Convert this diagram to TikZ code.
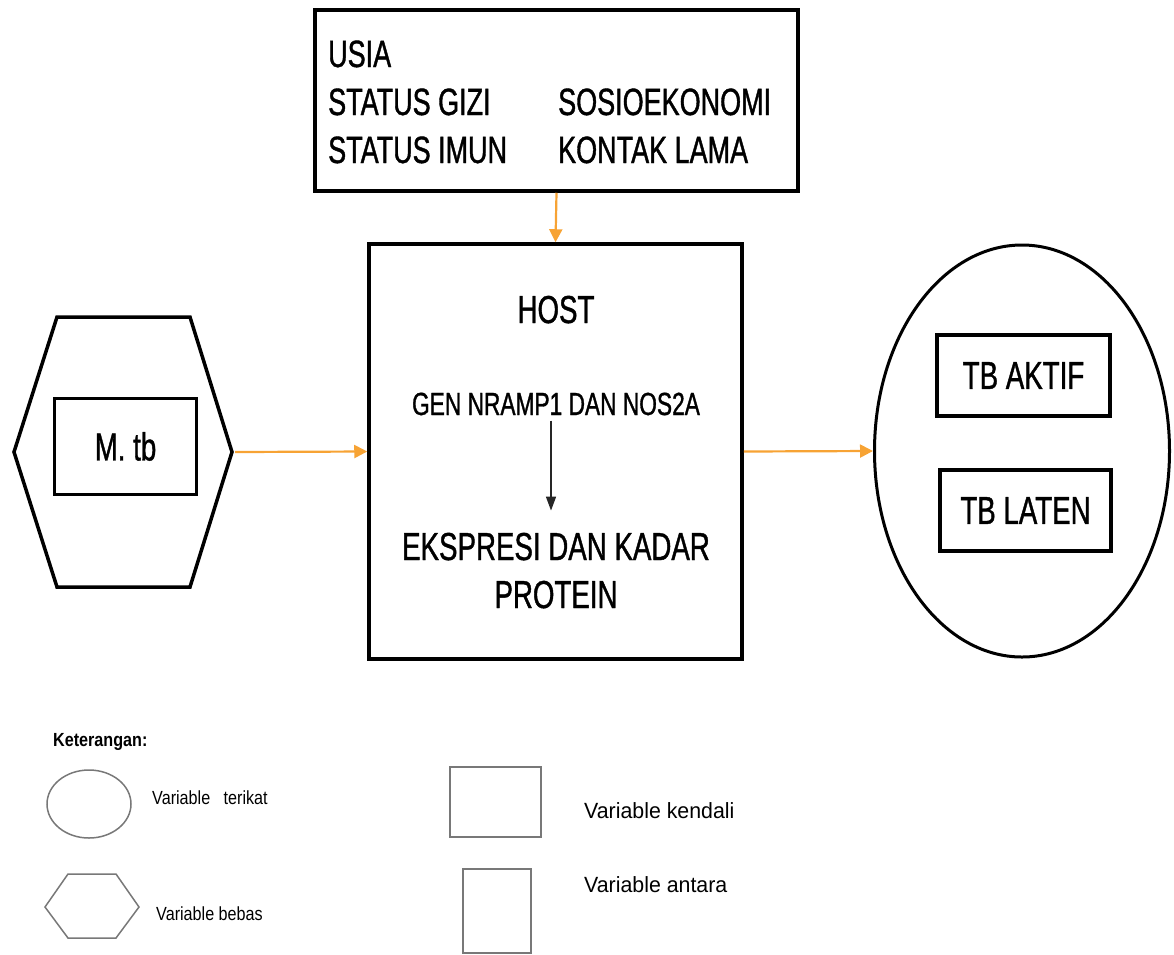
\documentclass[tikz,border=0pt]{standalone}
\usepackage{fontspec}
\setmainfont{Liberation Sans}
\newfontfamily\nar[FakeStretch=0.71,FakeBold=1]{Liberation Sans}
\newfontfamily\legs[FakeStretch=0.85]{Liberation Sans}
\newfontfamily\legl[FakeStretch=0.97]{Liberation Sans}
\usetikzlibrary{shapes.geometric,arrows.meta}
\definecolor{arrorange}{RGB}{247,163,52}
\definecolor{leggrey}{RGB}{120,120,120}
\begin{document}
\begin{tikzpicture}[x=1pt,y=-1pt,
  box/.style={draw=black,line width=3.5pt,inner sep=0pt},
  big/.style={font=\nar\fontsize{39}{48}\selectfont},
  genf/.style={font=\nar\fontsize{32}{38}\selectfont},
  oarrow/.style={draw=arrorange,line width=2.2pt,-{Triangle[length=13pt,width=13pt]}},
  barrow/.style={draw=black!85,line width=1.5pt,-{Triangle[length=14pt,width=10pt]}},
  lg/.style={draw=leggrey,line width=1.5pt,inner sep=0pt},
  legsmall/.style={font=\legs\fontsize{19}{22}\selectfont,inner sep=0pt},
  leglarge/.style={font=\legl\fontsize{22}{26}\selectfont,inner sep=0pt}]
\useasboundingbox (0,0) rectangle (1174,954);

% top box (control variables)
\node[box,minimum width=483pt,minimum height=181pt] (top) at (556.5,100.5) {};
\node[font=\nar\fontsize{38}{48}\selectfont,anchor=base west,inner sep=0pt] (toptext) at (328,67)
  {\begin{tabular}[t]{@{}l@{}l@{}}\makebox[230pt][l]{USIA} & \\ STATUS GIZI & SOSIOEKONOMI\\ STATUS IMUN & KONTAK LAMA\end{tabular}};

% host box
\node[box,minimum width=373pt,minimum height=415pt] (host) at (555.5,451.5) {};
\node[big,anchor=base,inner sep=0pt] (hosttxt) at (556,323) {HOST};
\node[genf,anchor=base,inner sep=2pt] (gen) at (556,415) {GEN NRAMP1 DAN NOS2A};
\node[big,anchor=base,align=center,inner sep=0pt] (eks) at (556,608) {EKSPRESI DAN KADAR\\PROTEIN};
\draw[barrow,shorten <=3pt,shorten >=22pt] ([xshift=-5pt]gen.south) -- ([xshift=-5pt]gen.south |- eks.north);

% hexagon (independent variable)
\draw[line width=3.5pt] (57,317) -- (190,317) -- (232,452) -- (190,587) -- (57,587) -- (14,452) -- cycle;
\coordinate (hexR) at (235,452);
\node[box,big,minimum width=142pt,minimum height=96pt] (mtb) at (125.5,446.5) {M. tb};

% ellipse (dependent variable)
\node[draw=black,line width=3pt,ellipse,minimum width=295pt,minimum height=412pt,inner sep=0pt] (ell) at (1022,451) {};
\node[box,big,minimum width=173pt,minimum height=81pt] (aktif) at (1023.5,375.5) {TB AKTIF};
\node[box,big,minimum width=171pt,minimum height=81pt] (laten) at (1025.5,510.5) {TB LATEN};

% connectors
\draw[oarrow] (top.south) -- (host.north);
\draw[oarrow] (hexR) -- (host.west);
\draw[oarrow] (host.east) -- (ell.west);

% legend
\node[font=\legs\bfseries\fontsize{19}{22}\selectfont,anchor=base west,inner sep=0pt] (ket) at (53,746) {Keterangan:};
\node[lg,ellipse,minimum width=84pt,minimum height=68pt] (lell) at (89,804) {};
\node[legsmall,anchor=base west] (lterikat) at (152,804) {Variable\ \ \ terikat};
\draw[lg] (68,874) -- (116,874) -- (139,907) -- (116,938) -- (68,938) -- (45,907) -- cycle;
\node[legsmall,anchor=base west] (lbebas) at (156,920) {Variable bebas};
\node[lg,minimum width=91pt,minimum height=70pt] (lkend) at (495.5,802) {};
\node[leglarge,anchor=base west] (lkendtxt) at (584,818) {Variable kendali};
\node[lg,minimum width=68pt,minimum height=84pt] (lant) at (497,911) {};
\node[leglarge,anchor=base west] (lanttxt) at (584,892) {Variable antara};
\end{tikzpicture}
\end{document}
